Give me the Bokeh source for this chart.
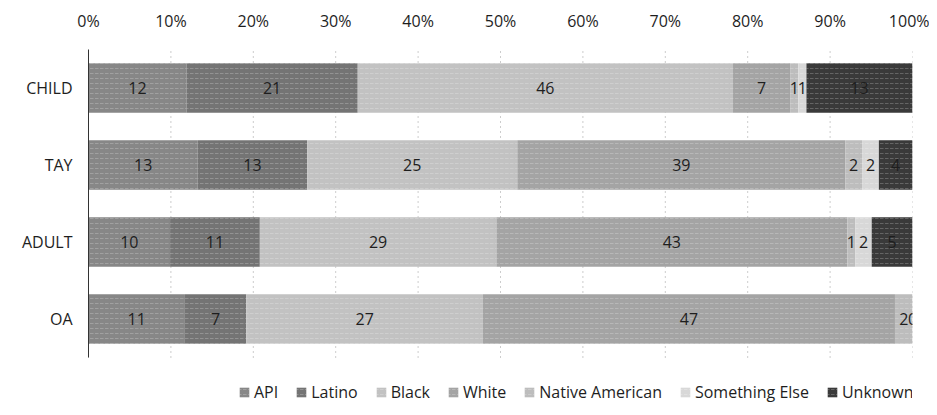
from bokeh.plotting import figure
from bokeh.models import ColumnDataSource, Legend, LegendItem, NumeralTickFormatter, FixedTicker, Range1d
from bokeh.core.properties import value
from bokeh.embed import file_html
from bokeh.resources import INLINE

groups = ["CHILD", "TAY", "ADULT", "OA"]
series = ["API", "Latino", "Black", "White", "Native American", "Something Else", "Unknown"]
api = [12, 13, 10, 11]
latino = [21, 13, 11, 7]
black = [46, 25, 29, 27]
white = [7, 39, 43, 47]
native = [1, 2, 1, 2]
something = [1, 2, 2, 0]
unknown = [13, 4, 5, 0]
colors = ["#878787", "#747474", "#c2c2c2", "#a4a4a4", "#bdbdbd", "#d8d8d8", "#3a3a3a"]
ticks = [0, 0.1, 0.2, 0.3, 0.4, 0.5, 0.6, 0.7, 0.8, 0.9, 1.0]

vals = [api, latino, black, white, native, something, unknown]
n = len(groups)
totals = [sum(v[i] for v in vals) for i in range(n)]
fracs = {s: [v[i] / totals[i] for i in range(n)] for s, v in zip(series, vals)}
ypos = [n - i for i in range(n)]  # CHILD at top

FONT = "Open Sans"
W, H = 929, 405
LEFT, TOP, RIGHT = 88, 49, 17
BAND = 77.0
ytop = n + 0.5
ybot = ytop - (H - TOP) / BAND

p = figure(x_range=Range1d(0, 1), y_range=Range1d(ybot, ytop), width=W, height=H,
           output_backend="svg", toolbar_location=None, x_axis_location="above",
           min_border_left=LEFT, min_border_right=RIGHT, min_border_top=TOP, min_border_bottom=0)
p.outline_line_color = None
p.xgrid.grid_line_color = None
p.ygrid.grid_line_color = None

# dotted vertical gridlines limited to the plot area of the bars
p.segment(x0=ticks, x1=ticks, y0=[0.5] * len(ticks), y1=[ytop] * len(ticks),
          line_color="#9a9a9a", line_dash="1 4", line_width=1)

src = ColumnDataSource(dict(y=ypos, **fracs))
rs = p.hbar_stack(series, y="y", height=0.64, color=colors, source=src, line_color=None,
                  hatch_pattern="horizontal_dash", hatch_color="white", hatch_alpha=0.22,
                  hatch_scale=5, hatch_weight=1)

# data labels
lx, ly, lt = [], [], []
for i in range(n):
    cum = 0
    for s, v in zip(series, vals):
        f = fracs[s][i]
        if v[i] > 0 or s == "Something Else":
            lx.append(cum + f / 2)
            ly.append(ypos[i])
            lt.append(str(v[i]))
        cum += f
p.text(x=lx, y=ly, text=lt, text_align="center", text_baseline="middle",
       text_font=value(FONT), text_font_size="16px", text_color="#1e1e1e")

p.xaxis.ticker = FixedTicker(ticks=ticks)
p.xaxis.formatter = NumeralTickFormatter(format="0%")
p.xaxis.axis_line_color = None
p.xaxis.major_tick_line_color = None
p.xaxis.minor_tick_line_color = None
p.xaxis.major_label_text_font = FONT
p.xaxis.major_label_text_font_size = "16px"
p.xaxis.major_label_text_color = "#1e1e1e"
p.xaxis.major_label_standoff = 12

p.yaxis.ticker = FixedTicker(ticks=ypos)
p.yaxis.major_label_overrides = {y: g for y, g in zip(ypos, groups)}
p.yaxis.bounds = (0.5, ytop)
p.yaxis.axis_line_color = "#333333"
p.yaxis.major_tick_line_color = None
p.yaxis.minor_tick_line_color = None
p.yaxis.major_label_text_font = FONT
p.yaxis.major_label_text_font_size = "16px"
p.yaxis.major_label_text_color = "#1e1e1e"
p.yaxis.major_label_standoff = 10

legend = Legend(items=[LegendItem(label=s, renderers=[r]) for s, r in zip(series, rs)],
                orientation="horizontal", location=(150, 2), border_line_color=None,
                background_fill_alpha=0, label_text_font=FONT, label_text_font_size="16px",
                label_text_color="#1e1e1e", glyph_width=12, glyph_height=12, spacing=17,
                label_standoff=4, padding=0, margin=0)
p.add_layout(legend, "center")

open("out.html", "w").write(file_html(p, INLINE))
